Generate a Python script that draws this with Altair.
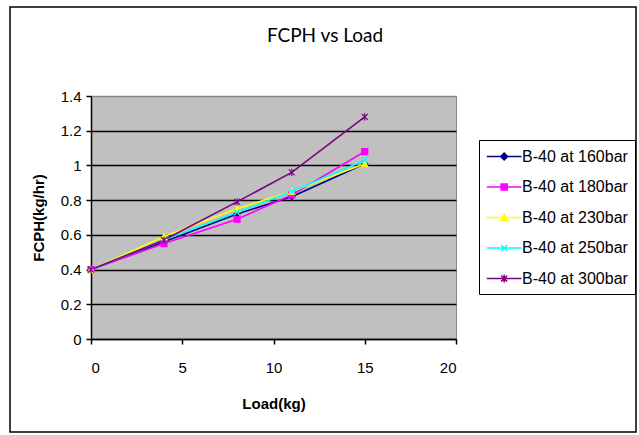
import altair as alt
import pandas as pd

load = [0, 4, 8, 11, 15]
series_names = ["B-40 at 160bar", "B-40 at 180bar", "B-40 at 230bar", "B-40 at 250bar", "B-40 at 300bar"]
fcph_160 = [0.40, 0.56, 0.72, 0.82, 1.01]
fcph_180 = [0.40, 0.55, 0.69, 0.83, 1.08]
fcph_230 = [0.40, 0.59, 0.75, 0.85, 1.01]
fcph_250 = [0.40, 0.57, 0.73, 0.85, 1.03]
fcph_300 = [0.40, 0.57, 0.79, 0.96, 1.28]
colors = ["#000080", "#FF00FF", "#FFFF00", "#00FFFF", "#800080"]
y_ticks = [0, 0.2, 0.4, 0.6, 0.8, 1.0, 1.2, 1.4]
x_ticks = [0, 5, 10, 15, 20]
chart_title = "FCPH vs Load"

marker_paths = [
    "M0,-1L1,0L0,1L-1,0Z",
    "M-1,-1H1V1H-1Z",
    "M0,-1L1,1H-1Z",
    "M-1,-1L1,1M1,-1L-1,1",
    "M-1,-1L1,1M1,-1L-1,1M0,-1.2V1.2",
]
legend_paths = [
    "M-1,0H3M1,-0.4L1.4,0L1,0.4L0.6,0Z",
    "M-1,0H3M0.65,-0.35H1.35V0.35H0.65Z",
    "M-1,0H3M1,-0.4L1.4,0.35H0.6Z",
    "M-1,0H3M0.65,-0.35L1.35,0.35M1.35,-0.35L0.65,0.35",
    "M-1,0H3M0.65,-0.35L1.35,0.35M1.35,-0.35L0.65,0.35M1,-0.45V0.45",
]

rows = []
for name, vals in zip(series_names, [fcph_160, fcph_180, fcph_230, fcph_250, fcph_300]):
    for x, v in zip(load, vals):
        rows.append({"Load": x, "FCPH": v, "Series": name})
df = pd.DataFrame(rows)

shape_expr = " : ".join(
    f"datum.value === '{n}' ? '{p}'" for n, p in zip(series_names[:-1], legend_paths[:-1])
) + f" : '{legend_paths[-1]}'"

axis_style = dict(
    domainColor="black", domainWidth=1.5, tickColor="black", tickWidth=1.5, tickSize=5,
    labelFont="Liberation Sans", labelFontSize=15, labelColor="black", labelOverlap=False,
    titleFont="Liberation Sans", titleFontSize=15, titleFontWeight="bold", titleColor="black",
)

x_enc = alt.X("Load:Q", scale=alt.Scale(domain=[0, 20], nice=False),
              axis=alt.Axis(values=x_ticks, tickCount=10, title="Load(kg)", grid=False,
                            labelPadding=16, titlePadding=21, **axis_style))
y_enc = alt.Y("FCPH:Q", scale=alt.Scale(domain=[0, 1.4], nice=False),
              axis=alt.Axis(values=y_ticks, tickCount=20, title="FCPH(kg/hr)", format="~g",
                            gridWidth=1.5,
                            gridColor={"condition": {"test": "datum.value > 1.3", "value": "#888888"},
                                       "value": "black"},
                            labelPadding=5, titlePadding=14, **axis_style))
color_scale = alt.Scale(domain=series_names, range=colors)

lines = alt.Chart(df).mark_line(strokeWidth=1.6).encode(
    x=x_enc, y=y_enc,
    color=alt.Color("Series:N", scale=color_scale, sort=series_names,
                    legend=alt.Legend(
                        orient="none", legendX=388, legendY=44, title=None,
                        strokeColor="black", fillColor="white", padding=7,
                        labelFont="Liberation Sans", labelFontSize=16, labelColor="black",
                        symbolSize=300, symbolStrokeWidth=1.5, labelOffset=17,
                        rowPadding=12.5, labelLimit=200,
                        symbolType={"expr": shape_expr},
                        symbolFillColor={"expr": "scale('color', datum.value)"},
                    )),
    order=alt.Order("Load:Q"),
)

point_layers = []
for name, col, path in zip(series_names, colors, marker_paths):
    point_layers.append(
        alt.Chart(df).transform_filter(alt.datum.Series == name).mark_point(
            filled=True, size=36, strokeWidth=1.2, opacity=1, fill=col, stroke=col, shape=path
        ).encode(x="Load:Q", y="FCPH:Q")
    )

frame = alt.Chart(pd.DataFrame({"a": [0]})).mark_rect(
    fill="transparent", stroke="black", strokeWidth=1.5, clip=False
).encode(x=alt.value(-81), x2=alt.value(545), y=alt.value(-89), y2=alt.value(336))

title_mark = alt.Chart(pd.DataFrame({"t": [chart_title]})).mark_text(
    font="Lato", fontSize=19, color="black", align="center", baseline="middle", clip=False
).encode(text="t:N", x=alt.value(234), y=alt.value(-60))

chart = alt.layer(frame, title_mark, lines, *point_layers).properties(
    width=365, height=243,
    background="white",
    autosize=alt.AutoSizeParams(type="none"),
    padding={"left": 91, "top": 96, "right": 183, "bottom": 96},
).configure_view(
    fill="#C0C0C0", stroke="#888888", strokeWidth=1
)

chart.save("out.html", embed_options={"renderer": "svg", "actions": False})
